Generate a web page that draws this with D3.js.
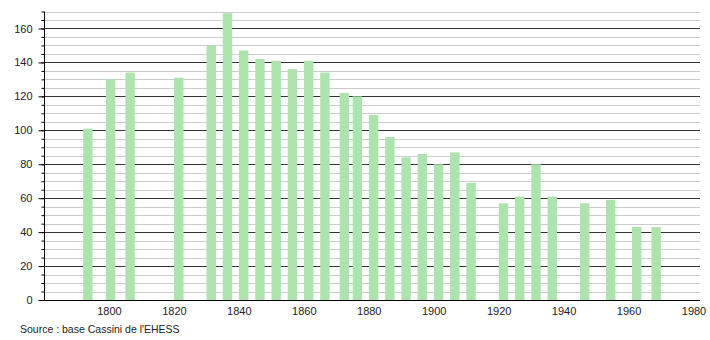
<!DOCTYPE html>
<html>
<head>
<meta charset="utf-8">
<script src="https://cdn.jsdelivr.net/npm/d3@7"></script>
<style>
  body { margin: 0; background: #fff; }
  svg text { font-family: "Liberation Sans", Arial, sans-serif; fill: #222; }
</style>
</head>
<body>
<svg id="chart"></svg>
<script>
// census years and population
const years = [1793, 1800, 1806, 1821, 1831, 1836, 1841, 1846, 1851, 1856, 1861, 1866,
               1872, 1876, 1881, 1886, 1891, 1896, 1901, 1906, 1911, 1921, 1926, 1931,
               1936, 1946, 1954, 1962, 1968];
const population = [101, 130, 134, 131, 150, 169, 147, 142, 141, 136, 141, 134,
                    122, 120, 109, 96, 84, 86, 80, 87, 69, 57, 61, 80,
                    61, 57, 59, 43, 43];
const xTicks = [1800, 1820, 1840, 1860, 1880, 1900, 1920, 1940, 1960, 1980];
const yTicks = [0, 20, 40, 60, 80, 100, 120, 140, 160];
const sourceText = "Source : base Cassini de l'EHESS";

const data = years.map((y, i) => ({ year: y, value: population[i] }));

const width = 710, height = 340;
const margin = { left: 44, right: 700, top: 11.5, bottom: 300 };

const svg = d3.select('#chart')
    .attr('width', width)
    .attr('height', height);

const xScale = d3.scaleLinear()
    .domain([1780, 1982])
    .range([margin.left, margin.right]);

const yScale = d3.scaleLinear()
    .domain([0, 170])
    .range([margin.bottom, margin.top]);

// gridlines, minor every 5 then major every 20
const minor = d3.range(5, 171, 5).filter(v => v % 20 !== 0);
svg.append('g')
  .selectAll('line')
  .data(minor)
  .enter()
  .append('line')
    .attr('x1', margin.left)
    .attr('x2', margin.right)
    .attr('y1', d => Math.round(yScale(d)) + 0.5)
    .attr('y2', d => Math.round(yScale(d)) + 0.5)
    .attr('stroke', '#cccccc')
    .attr('stroke-width', 1);

svg.append('g')
  .selectAll('line')
  .data(yTicks.filter(v => v > 0))
  .enter()
  .append('line')
    .attr('x1', margin.left)
    .attr('x2', margin.right)
    .attr('y1', d => Math.round(yScale(d)) + 0.5)
    .attr('y2', d => Math.round(yScale(d)) + 0.5)
    .attr('stroke', '#333')
    .attr('stroke-width', 1);

// bars (centred a bit past the census year, as in the original)
const barW = xScale(1782.9) - xScale(1780);
svg.selectAll('.bar')
    .data(data)
    .enter()
  .append('rect')
    .attr('class', 'bar')
    .attr('fill', '#ade3ad')
    .attr('x', d => xScale(d.year + 0.5) - barW / 2)
    .attr('width', barW)
    .attr('y', d => yScale(d.value))
    .attr('height', d => margin.bottom - yScale(d.value));

// y axis with minor ticks
const yAxisG = svg.append('g')
    .attr('transform', `translate(${margin.left + 0.5},0)`);
yAxisG.append('g')
    .call(d3.axisLeft(yScale).tickValues(d3.range(0, 171, 5)).tickSize(3).tickFormat(''))
    .call(g => g.select('.domain').remove())
    .call(g => g.selectAll('line').attr('stroke', '#000'));
yAxisG.append('g')
    .call(d3.axisLeft(yScale).tickValues(yTicks).tickSize(6).tickPadding(6))
    .call(g => g.select('.domain').remove())
    .call(g => g.selectAll('text').style('font-size', '11px'))
    .call(g => g.selectAll('line').attr('stroke', '#000'));
yAxisG.append('line')
    .attr('y1', yScale(170))
    .attr('y2', margin.bottom)
    .attr('stroke', '#000');

// x axis
const xAxisG = svg.append('g')
    .attr('transform', `translate(0,${margin.bottom + 0.5})`)
    .call(d3.axisBottom(xScale).tickValues(xTicks).tickSize(0).tickPadding(7).tickFormat(d3.format('d')));
xAxisG.select('.domain')
    .attr('d', `M${margin.left - 4},0H${margin.right}`)
    .attr('stroke', '#000');
xAxisG.selectAll('text').style('font-size', '11px');

// source
svg.append('text')
    .attr('x', 20)
    .attr('y', 333)
    .style('font-size', '10.5px')
    .text(sourceText);
</script>
</body>
</html>
